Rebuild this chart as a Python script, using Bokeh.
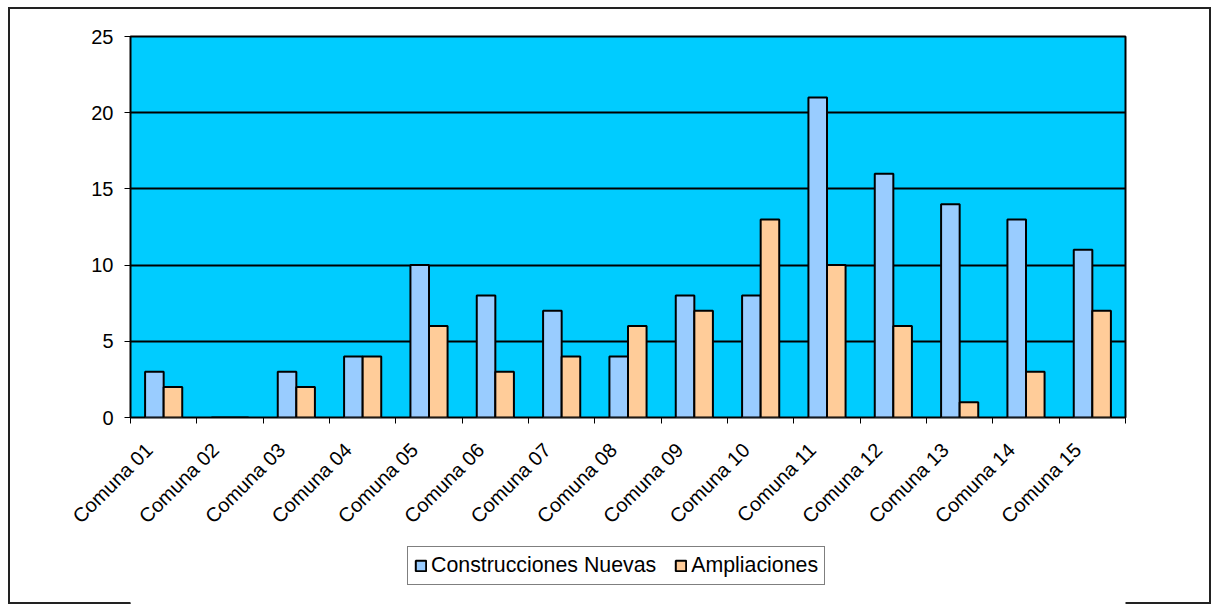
import math
import numpy as np
from bokeh.plotting import figure
from bokeh.layouts import column
from bokeh.models import ColumnDataSource, FixedTicker, Range1d, Legend, LegendItem
from bokeh.transform import dodge
from bokeh.embed import file_html
from bokeh.resources import INLINE

categories = ["Comuna 01", "Comuna 02", "Comuna 03", "Comuna 04", "Comuna 05",
              "Comuna 06", "Comuna 07", "Comuna 08", "Comuna 09", "Comuna 10",
              "Comuna 11", "Comuna 12", "Comuna 13", "Comuna 14", "Comuna 15"]
nuevas = [3, 0, 3, 4, 10, 8, 7, 4, 8, 8, 21, 16, 14, 13, 11]
ampliaciones = [2, 0, 2, 4, 6, 3, 4, 6, 7, 13, 10, 6, 1, 3, 7]
y_ticks = [0, 5, 10, 15, 20, 25]
series_names = ["Construcciones Nuevas", "Ampliaciones"]
colors = ["#99CCFF", "#FFCC99"]

n = len(categories)
centers = [i + 0.5 for i in range(n)]
bounds = list(range(n + 1))
label_shift = 0.22  # rotated labels sit a little left of the category centre
label_pos = [c - label_shift for c in centers]

src = ColumnDataSource(dict(x=centers, nuevas=nuevas, ampliaciones=ampliaciones))

FONT = "Liberation Sans"
BL, BR = 122, 86
EDGE = "#222222"

p = figure(width=1203, height=537, output_backend="svg", toolbar_location=None,
           x_range=Range1d(0, n), y_range=Range1d(0, 25),
           min_border_left=BL, min_border_right=BR, min_border_top=29,
           min_border_bottom=127)

p.background_fill_color = "#00CCFF"
p.border_fill_alpha = 0
p.outline_line_color = "black"
p.outline_line_width = 2
p.styles = {"box-shadow": f"inset 2px 0 0 0 {EDGE}, inset -2px 0 0 0 {EDGE}, inset 0 2px 0 0 {EDGE}"}

bw = 0.28
r1 = p.vbar(x=dodge("x", -bw / 2, range=p.x_range), top="nuevas", width=bw, bottom=0,
            source=src, fill_color=colors[0], line_color="black", line_width=2)
r2 = p.vbar(x=dodge("x", bw / 2, range=p.x_range), top="ampliaciones", width=bw, bottom=0,
            source=src, fill_color=colors[1], line_color="black", line_width=2)

# grid
p.xgrid.grid_line_color = None
p.ygrid.ticker = FixedTicker(ticks=y_ticks)
p.ygrid.grid_line_color = "black"
p.ygrid.grid_line_width = 2

# y axis
ya = p.yaxis[0]
ya.ticker = FixedTicker(ticks=y_ticks)
ya.axis_line_color = None
ya.major_tick_out = 6
ya.major_tick_in = 0
ya.major_tick_line_color = "black"
ya.minor_tick_line_color = None
ya.major_label_standoff = 11
ya.major_label_text_font = FONT
ya.major_label_text_font_size = "20px"
ya.major_label_text_color = "black"

# x axis
xa = p.xaxis[0]
xa.ticker = FixedTicker(ticks=label_pos, minor_ticks=bounds)
xa.axis_line_color = None
xa.major_tick_out = 0
xa.major_tick_in = 0
xa.major_tick_line_color = None
xa.minor_tick_out = 6
xa.minor_tick_in = 0
xa.minor_tick_line_color = "black"
xa.major_label_overrides = {c: lab for c, lab in zip(label_pos, categories)}
xa.major_label_orientation = math.pi / 4
xa.major_label_standoff = 23
xa.major_label_text_font = FONT
xa.major_label_text_font_size = "20px"
xa.major_label_text_color = "black"

# legend strip below the chart, with the same side borders so the frames line up
p2 = figure(width=1203, height=60, output_backend="svg", toolbar_location=None,
            x_range=Range1d(0, 1), y_range=Range1d(0, 1),
            x_axis_location=None, y_axis_location=None,
            min_border_left=BL, min_border_right=BR, min_border_top=0, min_border_bottom=0)
p2.grid.visible = False
p2.outline_line_color = None
p2.background_fill_color = "white"
p2.border_fill_alpha = 0
p2.styles = {"box-shadow": f"inset 2px 0 0 0 {EDGE}, inset -2px 0 0 0 {EDGE}, inset 0 -2px 0 0 {EDGE}"}
# swatch renderers for the legend, kept well outside the visible range
k1 = p2.vbar(x=[-5], bottom=[-6], top=[-5], width=0.1,
             fill_color=colors[0], line_color="black", line_width=2)
k2 = p2.vbar(x=[-5], bottom=[-6], top=[-5], width=0.1,
             fill_color=colors[1], line_color="black", line_width=2)

legend = Legend(items=[LegendItem(label=series_names[0], renderers=[k1]),
                       LegendItem(label=series_names[1], renderers=[k2])],
                orientation="horizontal", location=(277, 19))
legend.border_line_color = "black"
legend.border_line_width = 1
legend.background_fill_color = "white"
legend.background_fill_alpha = 1
legend.label_text_font = FONT
legend.label_text_font_size = "16pt"
legend.label_text_color = "black"
legend.glyph_width = 13
legend.glyph_height = 13
legend.padding = 6
legend.spacing = 18
legend.label_standoff = 4
legend.margin = 0
p2.add_layout(legend, "center")

layout = column(p, p2, spacing=0,
                styles={"margin-left": "8px", "margin-top": "7px"})

open("out.html", "w").write(file_html(layout, INLINE))
